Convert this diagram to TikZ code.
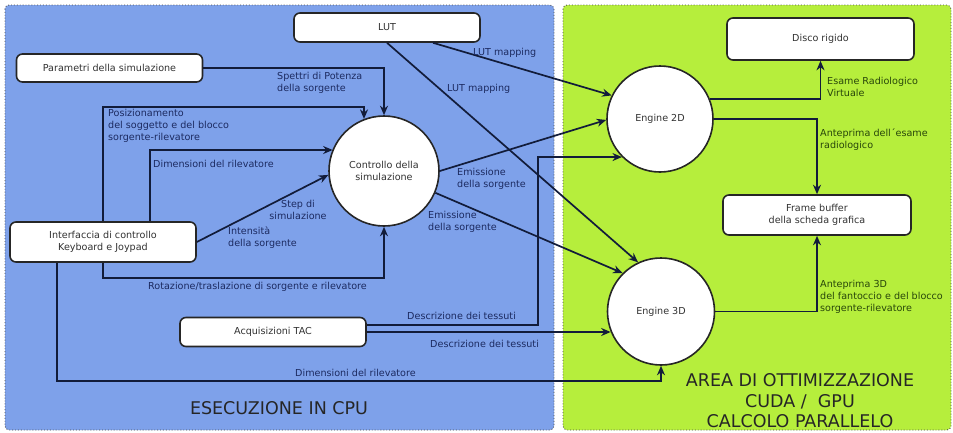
\documentclass[tikz,border=0pt]{standalone}
\usepackage{fontspec}
\setmainfont{DejaVu Sans}
\usetikzlibrary{arrows.meta,calc}
\definecolor{cpublue}{RGB}{126,161,234}
\definecolor{gpugreen}{RGB}{182,238,60}
\definecolor{linecol}{RGB}{18,28,58}
\definecolor{bluetxt}{RGB}{28,42,96}
\definecolor{greentxt}{RGB}{40,70,10}
\definecolor{boxtxt}{RGB}{50,50,50}
\begin{document}
\begin{tikzpicture}[x=1pt,y=-1pt,
  region/.style={draw=black!70, dotted, line width=0.9pt, rounded corners=4pt},
  box/.style={draw=black!85, fill=white, rounded corners=6pt, line width=1.6pt,
    font=\fontsize{9.6}{11.5}\selectfont, text=boxtxt, align=center, inner sep=0pt},
  circ/.style={circle, draw=black!85, fill=white, line width=1.6pt,
    font=\fontsize{9.6}{11.5}\selectfont, text=boxtxt, align=center, inner sep=0pt},
  conn/.style={draw=linecol, line width=1.7pt, -{Stealth[length=9.5pt,width=8pt]}},
  lbl/.style={font=\fontsize{9.6}{11.8}\selectfont, text=bluetxt, align=left, inner sep=0pt, anchor=west},
  glbl/.style={lbl, text=greentxt},
  title/.style={font=\fontsize{17.5}{20.5}\selectfont, align=center, inner sep=0pt}
]
\useasboundingbox (0,0) rectangle (953,432);
\fill[white] (0,0) rectangle (953,432);
\draw[region, fill=cpublue] (5,5) rectangle (554,430);
\draw[region, fill=gpugreen] (563,5) rectangle (951,430);

% nodes
\node[box, minimum width=186pt, minimum height=29pt] (lut) at (387,27.5) {LUT};
\node[box, minimum width=186pt, minimum height=28pt] (param) at (109.5,68) {Parametri della simulazione};
\node[box, minimum width=186pt, minimum height=40pt] (intf) at (103,242) {Interfaccia di controllo\\Keyboard e Joypad};
\node[box, minimum width=186pt, minimum height=29pt] (tac) at (273,332) {Acquisizioni TAC};
\node[circ, minimum size=110pt] (ctrl) at (384,171) {Controllo della\\simulazione};
\node[circ, minimum size=106pt] (e2d) at (660,119) {Engine 2D};
\node[circ, minimum size=107pt] (e3d) at (661,311.5) {Engine 3D};
\node[box, minimum width=187pt, minimum height=42pt] (disco) at (820.5,39) {Disco rigido};
\node[box, minimum width=188pt, minimum height=40pt] (fb) at (817,215) {Frame buffer\\della scheda grafica};

% coordinates
\coordinate (p1) at (103,107);
\coordinate (q1) at (150,150);
\coordinate (r1) at (103,278);
\coordinate (d1) at (57,381);
\coordinate (t1) at (538,325);

% connectors
\draw[conn] (param.east) -| (ctrl.north);
\draw[conn] (p1 |- intf.north) -- (p1) -| (ctrl.111);
\draw[conn] (q1 |- intf.north) -- (q1) -- (ctrl.157.6 |- q1);
\draw[conn] (intf.east) -- (ctrl.184);
\draw[conn] (r1 |- intf.south) -- (r1) -| (ctrl.south);
\draw[conn] (d1 |- intf.south) -- (d1) -| (e3d.south);
\draw[conn] (tac.east |- t1) -- (t1) |- (e2d.225.8);
\draw[conn] (tac.east) -- (e3d.202.3 |- tac.east);
\draw[conn] ($(lut.south)+(46,0)$) -- (e2d.154);
\draw[conn] (lut.south) -- (e3d.115);
\draw[conn] (ctrl.east) -- (e2d.181);
\draw[conn] (ctrl.337) -- (e3d.135);
\draw[conn] (e2d.22) -| (disco.south);
\draw[conn] (e2d.east) -| (fb.north);
\draw[conn] (e3d.east) -| (fb.south);

% labels
\node[lbl] (l1) at (277,83) {Spettri di Potenza\\della sorgente};
\node[lbl] (l2) at (108,126) {Posizionamento\\del soggetto e del blocco\\sorgente-rilevatore};
\node[lbl] (l3) at (153,164) {Dimensioni del rilevatore};
\node[lbl, align=center, anchor=center] (l4) at (298,210) {Step di\\simulazione};
\node[lbl] (l5) at (228,238) {Intensità\\della sorgente};
\node[lbl] (l6) at (148,287) {Rotazione/traslazione di sorgente e rilevatore};
\node[lbl] (l7) at (407,316) {Descrizione dei tessuti};
\node[lbl] (l8) at (430,344) {Descrizione dei tessuti};
\node[lbl] (l9) at (295,373) {Dimensioni del rilevatore};
\node[lbl] (l10) at (473,53) {LUT mapping};
\node[lbl] (l11) at (447,89) {LUT mapping};
\node[lbl] (l12) at (457,179) {Emissione\\della sorgente};
\node[lbl] (l13) at (428,222) {Emissione\\della sorgente};
\node[glbl] (l14) at (827,87) {Esame Radiologico\\Virtuale};
\node[glbl] (l15) at (820,140) {Anteprima dell´esame\\radiologico};
\node[glbl] (l16) at (820,297) {Anteprima 3D\\del fantoccio e del blocco\\sorgente-rilevatore};

% titles
\node[title, text=black!85] (t_cpu) at (279,408) {ESECUZIONE IN CPU};
\node[title, text=black!85] (t_gpu) at (800,401) {AREA DI OTTIMIZZAZIONE\\CUDA /\ \ GPU\\CALCOLO PARALLELO};
\end{tikzpicture}
\end{document}
